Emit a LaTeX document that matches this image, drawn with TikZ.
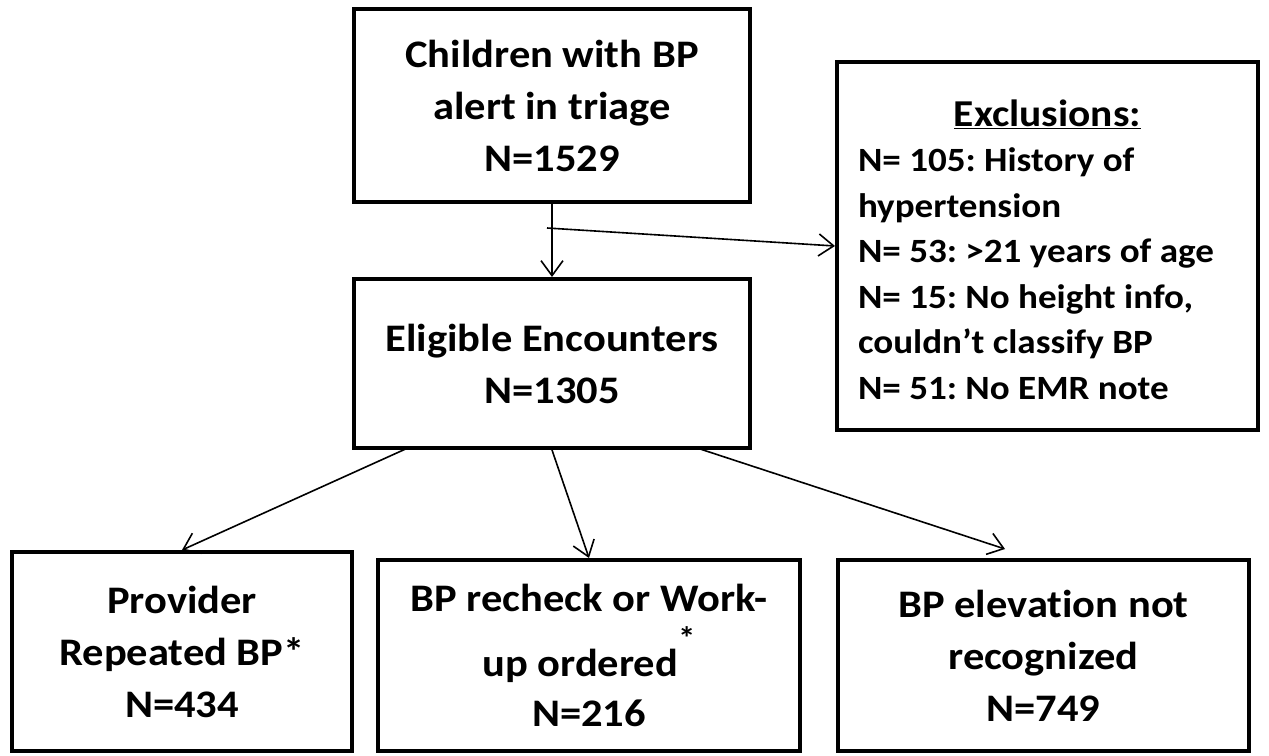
\documentclass[tikz,border=0pt]{standalone}
\usepackage{fontspec}
\setmainfont{Carlito}[Ligatures=NoCommon, FakeStretch=1.09]
\usepackage{tikz}
\usetikzlibrary{arrows.meta}
\frenchspacing

\tikzset{
    box/.style={draw, line width=4pt, align=center, inner sep=0pt,
        font=\fontsize{39}{52}\selectfont\bfseries},
    arr/.style={-{Straight Barb[length=15pt,width=22pt]}, line width=1.6pt}
}

\begin{document}
\begin{tikzpicture}[x=1pt, y=-1pt]
            \useasboundingbox (0,0) rectangle (1269,755);
            \node[box, minimum width=396pt, minimum height=193pt] (alert) at (552,105.5) {Children with BP\\ alert in triage\\ N=1529};
            \node[box, minimum width=396pt, minimum height=169pt] (elig) at (552,363.5) {Eligible Encounters\\ N=1305};
            \node[box, minimum width=421pt, minimum height=368pt, align=flush left, text width=379pt,
                font=\fontsize{34}{45.5}\selectfont\bfseries] (excl) at (1047.5,246)
                {\rule{0pt}{34pt}\makebox[379pt]{\fontsize{38}{38}\selectfont\underline{Exclusions:}}\\ N= 105: History of\\ hypertension\\ N= 53: >21 years of age\\ N= 15: No height info,\\ couldn’t classify BP\\ N= 51: No EMR note};
            \node[box, minimum width=340pt, minimum height=199pt] (prov) at (182,651.5) {Provider\\ Repeated BP*\\ N=434};
            \node[box, minimum width=422pt, minimum height=191pt] (recheck) at (589,655.5) {BP recheck or Work-\\[13pt] up ordered\smash{\raisebox{27pt}{\fontsize{32}{32}\selectfont *}}\\[-2pt] N=216};
            \node[box, minimum width=411pt, minimum height=191pt] (notrec) at (1043.5,655.5) {BP elevation not\\ recognized\\ N=749};
            % arrows
            \coordinate (split) at (547,228);
            \coordinate (left) at (410,447);
            \coordinate (right) at (694,447);
            \coordinate (notrectop) at (1005,549);
            \draw[arr] (alert) -- (elig);
            \draw[arr] (split) -- (excl.west);
            \draw[arr] (left) -- (prov.north);
            \draw[arr] (elig.south) -- (recheck.north);
            \draw[arr] (right) -- (notrectop);
\end{tikzpicture}
\end{document}
